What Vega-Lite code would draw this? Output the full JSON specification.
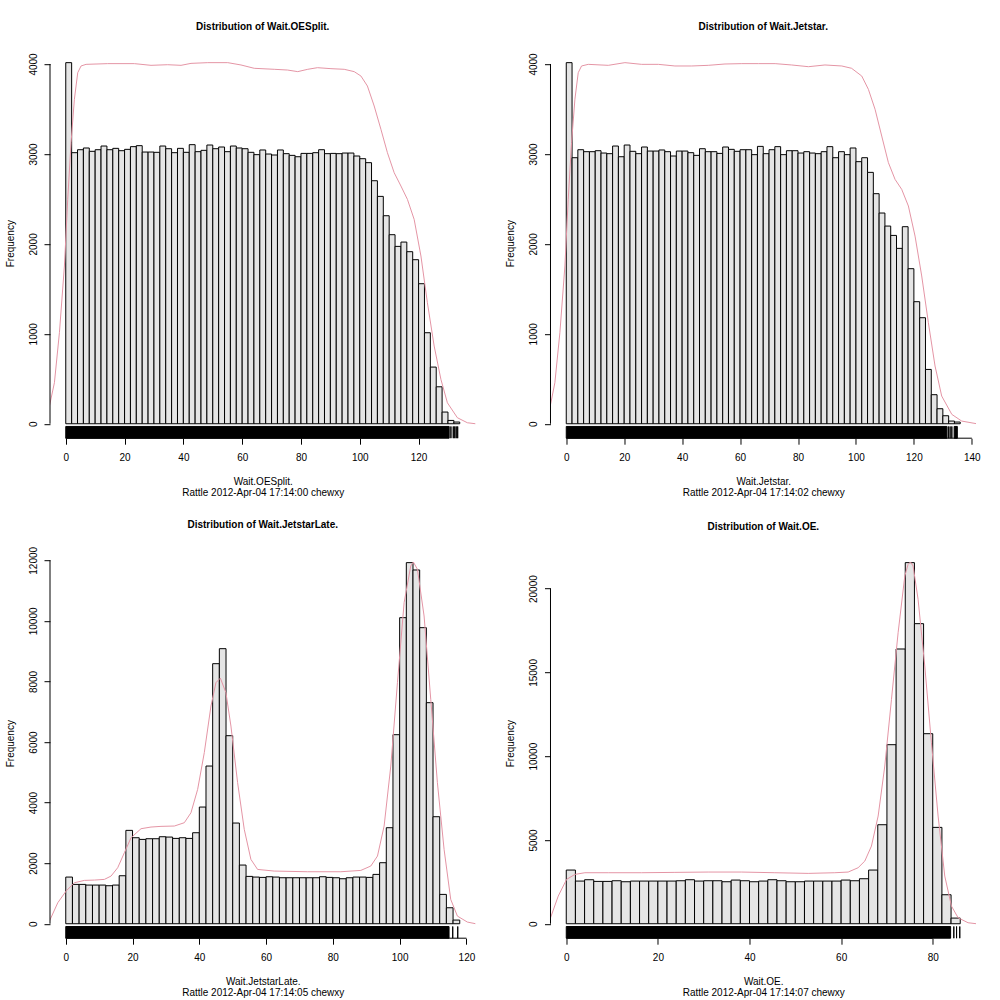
{
"$schema": "https://vega.github.io/schema/vega-lite/v6.json",
"background": "white",
"padding": {"left": 5, "top": 21.2, "right": 5, "bottom": 5},
"datasets": {
"hist": [
{"p":1,"a":0,"b":2,"n":4015},{"p":1,"a":2,"b":4,"n":3014},{"p":1,"a":4,"b":6,"n":3047},{"p":1,"a":6,"b":8,"n":3066},{"p":1,"a":8,"b":10,"n":3029},{"p":1,"a":10,"b":12,"n":3047},{"p":1,"a":12,"b":14,"n":3088},{"p":1,"a":14,"b":16,"n":3047},{"p":1,"a":16,"b":18,"n":3062},{"p":1,"a":18,"b":20,"n":3036},
{"p":1,"a":20,"b":22,"n":3051},{"p":1,"a":22,"b":24,"n":3081},{"p":1,"a":24,"b":26,"n":3092},{"p":1,"a":26,"b":28,"n":3021},{"p":1,"a":28,"b":30,"n":3021},{"p":1,"a":30,"b":32,"n":3018},{"p":1,"a":32,"b":34,"n":3088},{"p":1,"a":34,"b":36,"n":3058},{"p":1,"a":36,"b":38,"n":3014},{"p":1,"a":38,"b":40,"n":3062},
{"p":1,"a":40,"b":42,"n":3018},{"p":1,"a":42,"b":44,"n":3103},{"p":1,"a":44,"b":46,"n":3025},{"p":1,"a":46,"b":48,"n":3040},{"p":1,"a":48,"b":50,"n":3099},{"p":1,"a":50,"b":52,"n":3058},{"p":1,"a":52,"b":54,"n":3077},{"p":1,"a":54,"b":56,"n":3025},{"p":1,"a":56,"b":58,"n":3088},{"p":1,"a":58,"b":60,"n":3066},
{"p":1,"a":60,"b":62,"n":3058},{"p":1,"a":62,"b":64,"n":3018},{"p":1,"a":64,"b":66,"n":2992},{"p":1,"a":66,"b":68,"n":3044},{"p":1,"a":68,"b":70,"n":2999},{"p":1,"a":70,"b":72,"n":2988},{"p":1,"a":72,"b":74,"n":3044},{"p":1,"a":74,"b":76,"n":3003},{"p":1,"a":76,"b":78,"n":2984},{"p":1,"a":78,"b":80,"n":2969},
{"p":1,"a":80,"b":82,"n":3006},{"p":1,"a":82,"b":84,"n":3006},{"p":1,"a":84,"b":86,"n":3014},{"p":1,"a":86,"b":88,"n":3047},{"p":1,"a":88,"b":90,"n":3003},{"p":1,"a":90,"b":92,"n":3006},{"p":1,"a":92,"b":94,"n":3003},{"p":1,"a":94,"b":96,"n":3010},{"p":1,"a":96,"b":98,"n":3010},{"p":1,"a":98,"b":100,"n":2977},
{"p":1,"a":100,"b":102,"n":2947},{"p":1,"a":102,"b":104,"n":2903},{"p":1,"a":104,"b":106,"n":2702},{"p":1,"a":106,"b":108,"n":2528},{"p":1,"a":108,"b":110,"n":2313},{"p":1,"a":110,"b":112,"n":2102},{"p":1,"a":112,"b":114,"n":1972},{"p":1,"a":114,"b":116,"n":2020},{"p":1,"a":116,"b":118,"n":1913},{"p":1,"a":118,"b":120,"n":1824},
{"p":1,"a":120,"b":122,"n":1557},{"p":1,"a":122,"b":124,"n":1012},{"p":1,"a":124,"b":126,"n":630},{"p":1,"a":126,"b":128,"n":411},{"p":1,"a":128,"b":130,"n":130},{"p":1,"a":130,"b":132,"n":37},{"p":1,"a":132,"b":134,"n":19},

{"p":2,"a":0,"b":2,"n":4015},{"p":2,"a":2,"b":4,"n":2958},{"p":2,"a":4,"b":6,"n":3047},{"p":2,"a":6,"b":8,"n":3025},{"p":2,"a":8,"b":10,"n":3025},{"p":2,"a":10,"b":12,"n":3036},{"p":2,"a":12,"b":14,"n":3010},{"p":2,"a":14,"b":16,"n":3003},{"p":2,"a":16,"b":18,"n":3088},{"p":2,"a":18,"b":20,"n":2969},
{"p":2,"a":20,"b":22,"n":3099},{"p":2,"a":22,"b":24,"n":3029},{"p":2,"a":24,"b":26,"n":3003},{"p":2,"a":26,"b":28,"n":3077},{"p":2,"a":28,"b":30,"n":3032},{"p":2,"a":30,"b":32,"n":3032},{"p":2,"a":32,"b":34,"n":3044},{"p":2,"a":34,"b":36,"n":3025},{"p":2,"a":36,"b":38,"n":2977},{"p":2,"a":38,"b":40,"n":3032},
{"p":2,"a":40,"b":42,"n":3032},{"p":2,"a":42,"b":44,"n":3014},{"p":2,"a":44,"b":46,"n":2984},{"p":2,"a":46,"b":48,"n":3058},{"p":2,"a":48,"b":50,"n":3025},{"p":2,"a":50,"b":52,"n":3025},{"p":2,"a":52,"b":54,"n":3006},{"p":2,"a":54,"b":56,"n":3077},{"p":2,"a":56,"b":58,"n":3051},{"p":2,"a":58,"b":60,"n":3029},
{"p":2,"a":60,"b":62,"n":3047},{"p":2,"a":62,"b":64,"n":3047},{"p":2,"a":64,"b":66,"n":2992},{"p":2,"a":66,"b":68,"n":3084},{"p":2,"a":68,"b":70,"n":3003},{"p":2,"a":70,"b":72,"n":3047},{"p":2,"a":72,"b":74,"n":3081},{"p":2,"a":74,"b":76,"n":2992},{"p":2,"a":76,"b":78,"n":3036},{"p":2,"a":78,"b":80,"n":3036},
{"p":2,"a":80,"b":82,"n":3010},{"p":2,"a":82,"b":84,"n":3025},{"p":2,"a":84,"b":86,"n":3010},{"p":2,"a":86,"b":88,"n":3003},{"p":2,"a":88,"b":90,"n":3025},{"p":2,"a":90,"b":92,"n":3081},{"p":2,"a":92,"b":94,"n":2958},{"p":2,"a":94,"b":96,"n":3025},{"p":2,"a":96,"b":98,"n":2992},{"p":2,"a":98,"b":100,"n":3066},
{"p":2,"a":100,"b":102,"n":2914},{"p":2,"a":102,"b":104,"n":2958},{"p":2,"a":104,"b":106,"n":2795},{"p":2,"a":106,"b":108,"n":2558},{"p":2,"a":108,"b":110,"n":2343},{"p":2,"a":110,"b":112,"n":2198},{"p":2,"a":112,"b":114,"n":2094},{"p":2,"a":114,"b":116,"n":1950},{"p":2,"a":116,"b":118,"n":2191},{"p":2,"a":118,"b":120,"n":1724},
{"p":2,"a":120,"b":122,"n":1357},{"p":2,"a":122,"b":124,"n":1179},{"p":2,"a":124,"b":126,"n":604},{"p":2,"a":126,"b":128,"n":323},{"p":2,"a":128,"b":130,"n":167},{"p":2,"a":130,"b":132,"n":89},{"p":2,"a":132,"b":134,"n":30},{"p":2,"a":134,"b":136,"n":19},

{"p":3,"a":0,"b":2,"n":1541},{"p":3,"a":2,"b":4,"n":1299},{"p":3,"a":4,"b":6,"n":1299},{"p":3,"a":6,"b":8,"n":1277},{"p":3,"a":8,"b":10,"n":1277},{"p":3,"a":10,"b":12,"n":1277},{"p":3,"a":12,"b":14,"n":1255},{"p":3,"a":14,"b":16,"n":1277},{"p":3,"a":16,"b":18,"n":1585},{"p":3,"a":18,"b":20,"n":3083},
{"p":3,"a":20,"b":22,"n":2840},{"p":3,"a":22,"b":24,"n":2785},{"p":3,"a":24,"b":26,"n":2807},{"p":3,"a":26,"b":28,"n":2807},{"p":3,"a":28,"b":30,"n":2873},{"p":3,"a":30,"b":32,"n":2862},{"p":3,"a":32,"b":34,"n":2818},{"p":3,"a":34,"b":36,"n":2840},{"p":3,"a":36,"b":38,"n":2818},{"p":3,"a":38,"b":40,"n":3005},
{"p":3,"a":40,"b":42,"n":3853},{"p":3,"a":42,"b":44,"n":5207},{"p":3,"a":44,"b":46,"n":8587},{"p":3,"a":46,"b":48,"n":9082},{"p":3,"a":48,"b":50,"n":6209},{"p":3,"a":50,"b":52,"n":3325},{"p":3,"a":52,"b":54,"n":1938},{"p":3,"a":54,"b":56,"n":1563},{"p":3,"a":56,"b":58,"n":1541},{"p":3,"a":58,"b":60,"n":1530},
{"p":3,"a":60,"b":62,"n":1552},{"p":3,"a":62,"b":64,"n":1541},{"p":3,"a":64,"b":66,"n":1519},{"p":3,"a":66,"b":68,"n":1519},{"p":3,"a":68,"b":70,"n":1519},{"p":3,"a":70,"b":72,"n":1519},{"p":3,"a":72,"b":74,"n":1519},{"p":3,"a":74,"b":76,"n":1519},{"p":3,"a":76,"b":78,"n":1552},{"p":3,"a":78,"b":80,"n":1530},
{"p":3,"a":80,"b":82,"n":1519},{"p":3,"a":82,"b":84,"n":1486},{"p":3,"a":84,"b":86,"n":1519},{"p":3,"a":86,"b":88,"n":1541},{"p":3,"a":88,"b":90,"n":1541},{"p":3,"a":90,"b":92,"n":1530},{"p":3,"a":92,"b":94,"n":1629},{"p":3,"a":94,"b":96,"n":2015},{"p":3,"a":96,"b":98,"n":3171},{"p":3,"a":98,"b":100,"n":6242},
{"p":3,"a":100,"b":102,"n":10106},{"p":3,"a":102,"b":104,"n":11923},{"p":3,"a":104,"b":106,"n":11681},{"p":3,"a":106,"b":108,"n":9776},{"p":3,"a":108,"b":110,"n":7299},{"p":3,"a":110,"b":112,"n":3534},{"p":3,"a":112,"b":114,"n":969},{"p":3,"a":114,"b":116,"n":528},{"p":3,"a":116,"b":118,"n":121},

{"p":4,"a":0,"b":2,"n":3204},{"p":4,"a":2,"b":4,"n":2547},{"p":4,"a":4,"b":6,"n":2627},{"p":4,"a":6,"b":8,"n":2527},{"p":4,"a":8,"b":10,"n":2527},{"p":4,"a":10,"b":12,"n":2567},{"p":4,"a":12,"b":14,"n":2507},{"p":4,"a":14,"b":16,"n":2547},{"p":4,"a":16,"b":18,"n":2547},{"p":4,"a":18,"b":20,"n":2547},
{"p":4,"a":20,"b":22,"n":2547},{"p":4,"a":22,"b":24,"n":2547},{"p":4,"a":24,"b":26,"n":2567},{"p":4,"a":26,"b":28,"n":2627},{"p":4,"a":28,"b":30,"n":2547},{"p":4,"a":30,"b":32,"n":2567},{"p":4,"a":32,"b":34,"n":2567},{"p":4,"a":34,"b":36,"n":2507},{"p":4,"a":36,"b":38,"n":2607},{"p":4,"a":38,"b":40,"n":2567},
{"p":4,"a":40,"b":42,"n":2507},{"p":4,"a":42,"b":44,"n":2547},{"p":4,"a":44,"b":46,"n":2627},{"p":4,"a":46,"b":48,"n":2567},{"p":4,"a":48,"b":50,"n":2507},{"p":4,"a":50,"b":52,"n":2507},{"p":4,"a":52,"b":54,"n":2547},{"p":4,"a":54,"b":56,"n":2547},{"p":4,"a":56,"b":58,"n":2547},{"p":4,"a":58,"b":60,"n":2547},
{"p":4,"a":60,"b":62,"n":2607},{"p":4,"a":62,"b":64,"n":2567},{"p":4,"a":64,"b":66,"n":2687},{"p":4,"a":66,"b":68,"n":3204},{"p":4,"a":68,"b":70,"n":5910},{"p":4,"a":70,"b":72,"n":10686},{"p":4,"a":72,"b":74,"n":16398},{"p":4,"a":74,"b":76,"n":21552},{"p":4,"a":76,"b":78,"n":17910},{"p":4,"a":78,"b":80,"n":11343},
{"p":4,"a":80,"b":82,"n":5751},{"p":4,"a":82,"b":84,"n":1731},{"p":4,"a":84,"b":86,"n":338}
],
"dens": [
{"p":1,"x":-5.56,"d":196},{"p":1,"x":-3.86,"d":456},{"p":1,"x":-2.16,"d":1012},{"p":1,"x":-0.46,"d":1754},{"p":1,"x":0.67,"d":2495},{"p":1,"x":1.8,"d":3125},{"p":1,"x":2.93,"d":3607},{"p":1,"x":4.07,"d":3903},{"p":1,"x":5.2,"d":3978},{"p":1,"x":6.9,"d":3996},{"p":1,"x":14.26,"d":4004},{"p":1,"x":23.33,"d":4004},{"p":1,"x":29.0,"d":3985},{"p":1,"x":34.66,"d":3992},{"p":1,"x":39.2,"d":3985},{"p":1,"x":42.6,"d":4007},{"p":1,"x":48.3,"d":4015},{"p":1,"x":55.1,"d":4015},{"p":1,"x":59.6,"d":3989},{"p":1,"x":64.1,"d":3952},{"p":1,"x":70.9,"d":3941},{"p":1,"x":75.4,"d":3933},{"p":1,"x":78.9,"d":3915},{"p":1,"x":82.3,"d":3941},{"p":1,"x":85.6,"d":3959},{"p":1,"x":90.2,"d":3948},{"p":1,"x":94.7,"d":3941},{"p":1,"x":98.1,"d":3915},{"p":1,"x":100.4,"d":3866},{"p":1,"x":102.6,"d":3755},{"p":1,"x":104.9,"d":3533},{"p":1,"x":107.2,"d":3273},{"p":1,"x":109.4,"d":3014},{"p":1,"x":111.7,"d":2791},{"p":1,"x":114.0,"d":2643},{"p":1,"x":116.2,"d":2495},{"p":1,"x":118.5,"d":2272},{"p":1,"x":120.8,"d":1865},{"p":1,"x":123.0,"d":1346},{"p":1,"x":125.3,"d":864},{"p":1,"x":127.6,"d":493},{"p":1,"x":129.8,"d":233},{"p":1,"x":133.2,"d":67},{"p":1,"x":136.6,"d":11},{"p":1,"x":139.4,"d":0},
{"p":2,"x":-5.65,"d":178},{"p":2,"x":-3.93,"d":456},{"p":2,"x":-2.2,"d":1012},{"p":2,"x":-0.47,"d":1754},{"p":2,"x":0.68,"d":2495},{"p":2,"x":1.83,"d":3125},{"p":2,"x":2.98,"d":3607},{"p":2,"x":4.13,"d":3903},{"p":2,"x":5.28,"d":3978},{"p":2,"x":7.59,"d":3996},{"p":2,"x":14.5,"d":3985},{"p":2,"x":20.25,"d":4015},{"p":2,"x":26.0,"d":3996},{"p":2,"x":31.8,"d":3996},{"p":2,"x":37.5,"d":3978},{"p":2,"x":43.3,"d":3978},{"p":2,"x":49.0,"d":3985},{"p":2,"x":54.8,"d":4000},{"p":2,"x":60.6,"d":4004},{"p":2,"x":66.3,"d":4004},{"p":2,"x":72.1,"d":4004},{"p":2,"x":77.8,"d":3989},{"p":2,"x":83.6,"d":3970},{"p":2,"x":89.3,"d":3989},{"p":2,"x":95.1,"d":3978},{"p":2,"x":98.5,"d":3952},{"p":2,"x":102.0,"d":3866},{"p":2,"x":104.3,"d":3718},{"p":2,"x":106.6,"d":3496},{"p":2,"x":108.9,"d":3199},{"p":2,"x":111.2,"d":2903},{"p":2,"x":113.5,"d":2717},{"p":2,"x":115.8,"d":2606},{"p":2,"x":118.1,"d":2421},{"p":2,"x":120.4,"d":2087},{"p":2,"x":122.7,"d":1643},{"p":2,"x":125.0,"d":1124},{"p":2,"x":127.3,"d":642},{"p":2,"x":129.6,"d":308},{"p":2,"x":133.1,"d":104},{"p":2,"x":136.5,"d":30},{"p":2,"x":141.7,"d":0},
{"p":3,"x":-4.89,"d":88},{"p":3,"x":-2.39,"d":694},{"p":3,"x":0.1,"d":1079},{"p":3,"x":2.59,"d":1354},{"p":3,"x":5.59,"d":1431},{"p":3,"x":8.58,"d":1442},{"p":3,"x":11.57,"d":1464},{"p":3,"x":13.56,"d":1574},{"p":3,"x":15.56,"d":1850},{"p":3,"x":17.55,"d":2345},{"p":3,"x":19.55,"d":2840},{"p":3,"x":22.54,"d":3138},{"p":3,"x":25.53,"d":3193},{"p":3,"x":28.52,"d":3215},{"p":3,"x":32.52,"d":3226},{"p":3,"x":35.51,"d":3336},{"p":3,"x":37.5,"d":3666},{"p":3,"x":39.5,"d":4437},{"p":3,"x":41.49,"d":5648},{"p":3,"x":43.49,"d":7189},{"p":3,"x":44.98,"d":7960},{"p":3,"x":46.3,"d":8110},{"p":3,"x":47.97,"d":7629},{"p":3,"x":49.47,"d":6528},{"p":3,"x":51.47,"d":4657},{"p":3,"x":53.46,"d":3116},{"p":3,"x":55.45,"d":2125},{"p":3,"x":57.45,"d":1794},{"p":3,"x":62.44,"d":1739},{"p":3,"x":72.41,"d":1717},{"p":3,"x":82.38,"d":1717},{"p":3,"x":88.37,"d":1761},{"p":3,"x":91.36,"d":1905},{"p":3,"x":93.36,"d":2235},{"p":3,"x":95.35,"d":3226},{"p":3,"x":97.35,"d":5207},{"p":3,"x":99.34,"d":7960},{"p":3,"x":101.34,"d":10602},{"p":3,"x":103.33,"d":11813},{"p":3,"x":104.1,"d":11945},{"p":3,"x":105.33,"d":11703},{"p":3,"x":107.32,"d":10161},{"p":3,"x":109.32,"d":7409},{"p":3,"x":111.31,"d":4657},{"p":3,"x":113.31,"d":2455},{"p":3,"x":115.3,"d":804},{"p":3,"x":117.3,"d":253},{"p":3,"x":120.29,"d":55},{"p":3,"x":122.78,"d":0},
{"p":4,"x":-3.56,"d":259},{"p":4,"x":-1.75,"d":1652},{"p":4,"x":0.07,"d":2647},{"p":4,"x":1.89,"d":2945},{"p":4,"x":4.07,"d":3045},{"p":4,"x":9.16,"d":3045},{"p":4,"x":16.44,"d":3045},{"p":4,"x":23.71,"d":3065},{"p":4,"x":30.98,"d":3085},{"p":4,"x":38.26,"d":3085},{"p":4,"x":45.53,"d":3045},{"p":4,"x":52.8,"d":3005},{"p":4,"x":58.62,"d":3045},{"p":4,"x":61.53,"d":3085},{"p":4,"x":63.71,"d":3343},{"p":4,"x":65.17,"d":3741},{"p":4,"x":66.62,"d":4637},{"p":4,"x":68.08,"d":6428},{"p":4,"x":69.53,"d":9413},{"p":4,"x":70.99,"d":13393},{"p":4,"x":72.44,"d":17373},{"p":4,"x":73.9,"d":20756},{"p":4,"x":74.62,"d":21452},{"p":4,"x":75.13,"d":21592},{"p":4,"x":75.71,"d":21353},{"p":4,"x":76.8,"d":19363},{"p":4,"x":78.26,"d":15383},{"p":4,"x":79.71,"d":10806},{"p":4,"x":81.17,"d":6428},{"p":4,"x":82.62,"d":2846},{"p":4,"x":84.08,"d":1055},{"p":4,"x":85.53,"d":358},{"p":4,"x":87.71,"d":60},{"p":4,"x":89.53,"d":0}
],
"rug": [
{"p":1,"a":0,"b":130.4},{"p":1,"a":131.0,"b":131.0},{"p":1,"a":131.8,"b":131.8},{"p":1,"a":132.3,"b":132.3},{"p":1,"a":132.8,"b":132.8},{"p":1,"a":133.3,"b":133.3},
{"p":2,"a":0,"b":131.4},{"p":2,"a":131.9,"b":131.9},{"p":2,"a":132.5,"b":132.5},{"p":2,"a":133.1,"b":133.1},{"p":2,"a":133.9,"b":135.0},
{"p":3,"a":0,"b":114.8},{"p":3,"a":115.9,"b":115.9},{"p":3,"a":117.4,"b":117.4},
{"p":4,"a":0,"b":83.9},{"p":4,"a":84.6,"b":84.6},{"p":4,"a":85.2,"b":85.2},{"p":4,"a":85.9,"b":85.9}
]
},
"columns": 2,
"bounds": "flush",
"spacing": {"row": 110, "column": 74.5},
"concat": [
{
"width": 425.5, "height": 390,
"title": "Distribution of Wait.OESplit.",
"layer": [
{"data": {"name": "hist"}, "transform": [{"filter": "datum.p == 1"}],
 "mark": {"type": "rect", "fill": "#E5E5E5", "stroke": "black", "strokeWidth": 1},
 "encoding": {
  "x": {"field": "a", "type": "quantitative", "scale": {"domain": [-5.36, 139.36], "nice": false, "zero": false},
        "axis": {"values": [0,20,40,60,80,100,120], "title": ["Wait.OESplit.", "Rattle 2012-Apr-04 17:14:00 chewxy"]}},
  "x2": {"field": "b"},
  "y": {"field": "n", "type": "quantitative", "scale": {"domain": [-160.6, 4175.6], "nice": false, "zero": false},
        "axis": {"values": [0,1000,2000,3000,4000], "format": "d", "title": "Frequency"}},
  "y2": {"datum": 0}
 }},
{"data": {"name": "dens"}, "transform": [{"filter": "datum.p == 1"}],
 "mark": {"type": "line", "color": "#E495A5", "strokeWidth": 1, "clip": true},
 "encoding": {"x": {"field": "x", "type": "quantitative"}, "y": {"field": "d", "type": "quantitative"}}},
{"data": {"name": "rug"}, "transform": [{"filter": "datum.p == 1"}],
 "mark": {"type": "rect", "fill": "black", "stroke": "black", "strokeWidth": 1},
 "encoding": {"x": {"field": "a", "type": "quantitative"}, "x2": {"field": "b"}, "y": {"datum": -160.6}, "y2": {"datum": -30}}},
{"data": {"values": [{}]}, "mark": {"type": "rule", "color": "black", "strokeWidth": 1},
 "encoding": {"x": {"datum": 0}, "x2": {"datum": 120}, "y": {"datum": -160.6}}},
{"data": {"values": [{}]}, "mark": {"type": "rule", "color": "black", "strokeWidth": 1},
 "encoding": {"x": {"datum": -5.36}, "y": {"datum": 0}, "y2": {"datum": 4000}}}
]
},
{
"width": 425.5, "height": 390,
"title": "Distribution of Wait.Jetstar.",
"layer": [
{"data": {"name": "hist"}, "transform": [{"filter": "datum.p == 2"}],
 "mark": {"type": "rect", "fill": "#E5E5E5", "stroke": "black", "strokeWidth": 1},
 "encoding": {
  "x": {"field": "a", "type": "quantitative", "scale": {"domain": [-5.44, 141.44], "nice": false, "zero": false},
        "axis": {"values": [0,20,40,60,80,100,120,140], "title": ["Wait.Jetstar.", "Rattle 2012-Apr-04 17:14:02 chewxy"]}},
  "x2": {"field": "b"},
  "y": {"field": "n", "type": "quantitative", "scale": {"domain": [-160.6, 4175.6], "nice": false, "zero": false},
        "axis": {"values": [0,1000,2000,3000,4000], "format": "d", "title": "Frequency"}},
  "y2": {"datum": 0}
 }},
{"data": {"name": "dens"}, "transform": [{"filter": "datum.p == 2"}],
 "mark": {"type": "line", "color": "#E495A5", "strokeWidth": 1, "clip": true},
 "encoding": {"x": {"field": "x", "type": "quantitative"}, "y": {"field": "d", "type": "quantitative"}}},
{"data": {"name": "rug"}, "transform": [{"filter": "datum.p == 2"}],
 "mark": {"type": "rect", "fill": "black", "stroke": "black", "strokeWidth": 1},
 "encoding": {"x": {"field": "a", "type": "quantitative"}, "x2": {"field": "b"}, "y": {"datum": -160.6}, "y2": {"datum": -30}}},
{"data": {"values": [{}]}, "mark": {"type": "rule", "color": "black", "strokeWidth": 1},
 "encoding": {"x": {"datum": 0}, "x2": {"datum": 140}, "y": {"datum": -160.6}}},
{"data": {"values": [{}]}, "mark": {"type": "rule", "color": "black", "strokeWidth": 1},
 "encoding": {"x": {"datum": -5.44}, "y": {"datum": 0}, "y2": {"datum": 4000}}}
]
},
{
"width": 425.5, "height": 390,
"title": "Distribution of Wait.JetstarLate.",
"layer": [
{"data": {"name": "hist"}, "transform": [{"filter": "datum.p == 3"}],
 "mark": {"type": "rect", "fill": "#E5E5E5", "stroke": "black", "strokeWidth": 1},
 "encoding": {
  "x": {"field": "a", "type": "quantitative", "scale": {"domain": [-4.72, 122.72], "nice": false, "zero": false},
        "axis": {"values": [0,20,40,60,80,100,120], "title": ["Wait.JetstarLate.", "Rattle 2012-Apr-04 17:14:05 chewxy"]}},
  "x2": {"field": "b"},
  "y": {"field": "n", "type": "quantitative", "scale": {"domain": [-477, 12400], "nice": false, "zero": false},
        "axis": {"values": [0,2000,4000,6000,8000,10000,12000], "format": "d", "title": "Frequency"}},
  "y2": {"datum": 0}
 }},
{"data": {"name": "dens"}, "transform": [{"filter": "datum.p == 3"}],
 "mark": {"type": "line", "color": "#E495A5", "strokeWidth": 1, "clip": true},
 "encoding": {"x": {"field": "x", "type": "quantitative"}, "y": {"field": "d", "type": "quantitative"}}},
{"data": {"name": "rug"}, "transform": [{"filter": "datum.p == 3"}],
 "mark": {"type": "rect", "fill": "black", "stroke": "black", "strokeWidth": 1},
 "encoding": {"x": {"field": "a", "type": "quantitative"}, "x2": {"field": "b"}, "y": {"datum": -477}, "y2": {"datum": -91}}},
{"data": {"values": [{}]}, "mark": {"type": "rule", "color": "black", "strokeWidth": 1},
 "encoding": {"x": {"datum": 0}, "x2": {"datum": 120}, "y": {"datum": -477}}},
{"data": {"values": [{}]}, "mark": {"type": "rule", "color": "black", "strokeWidth": 1},
 "encoding": {"x": {"datum": -4.72}, "y": {"datum": 0}, "y2": {"datum": 12000}}}
]
},
{
"width": 425.5, "height": 390,
"title": "Distribution of Wait.OE.",
"layer": [
{"data": {"name": "hist"}, "transform": [{"filter": "datum.p == 4"}],
 "mark": {"type": "rect", "fill": "#E5E5E5", "stroke": "black", "strokeWidth": 1},
 "encoding": {
  "x": {"field": "a", "type": "quantitative", "scale": {"domain": [-3.44, 89.44], "nice": false, "zero": false},
        "axis": {"values": [0,20,40,60,80], "title": ["Wait.OE.", "Rattle 2012-Apr-04 17:14:07 chewxy"]}},
  "x2": {"field": "b"},
  "y": {"field": "n", "type": "quantitative", "scale": {"domain": [-862, 22414], "nice": false, "zero": false},
        "axis": {"values": [0,5000,10000,15000,20000], "format": "d", "title": "Frequency"}},
  "y2": {"datum": 0}
 }},
{"data": {"name": "dens"}, "transform": [{"filter": "datum.p == 4"}],
 "mark": {"type": "line", "color": "#E495A5", "strokeWidth": 1, "clip": true},
 "encoding": {"x": {"field": "x", "type": "quantitative"}, "y": {"field": "d", "type": "quantitative"}}},
{"data": {"name": "rug"}, "transform": [{"filter": "datum.p == 4"}],
 "mark": {"type": "rect", "fill": "black", "stroke": "black", "strokeWidth": 1},
 "encoding": {"x": {"field": "a", "type": "quantitative"}, "x2": {"field": "b"}, "y": {"datum": -862}, "y2": {"datum": -164}}},
{"data": {"values": [{}]}, "mark": {"type": "rule", "color": "black", "strokeWidth": 1},
 "encoding": {"x": {"datum": 0}, "x2": {"datum": 80}, "y": {"datum": -862}}},
{"data": {"values": [{}]}, "mark": {"type": "rule", "color": "black", "strokeWidth": 1},
 "encoding": {"x": {"datum": -3.44}, "y": {"datum": 0}, "y2": {"datum": 20000}}}
]
}
],
"config": {
 "view": {"stroke": null},
 "font": "Liberation Sans",
 "title": {"fontSize": 10, "fontWeight": "bold", "font": "Liberation Sans", "anchor": "middle", "frame": "group", "offset": 16.3, "color": "black"},
 "axis": {"domain": false, "grid": false, "ticks": true, "tickColor": "black", "tickSize": 6, "tickWidth": 1,
          "labelColor": "black", "labelFont": "Liberation Sans", "labelFontSize": 10, "labelOverlap": false, "labelFlush": false,
          "titleColor": "black", "titleFont": "Liberation Sans", "titleFontSize": 10, "titleFontWeight": "normal"},
 "axisX": {"labelPadding": 8.4, "labelAngle": 0, "titleBaseline": "top", "titleAlign": "center", "titleX": 212.75, "titleY": 38, "titleLineHeight": 11},
 "axisY": {"labelAngle": 270, "labelAlign": "center", "labelBaseline": "bottom", "labelPadding": 5.6, "titleAngle": 270, "titleAlign": "center", "titleBaseline": "middle", "titleX": -40, "titleY": 195}
}
}
